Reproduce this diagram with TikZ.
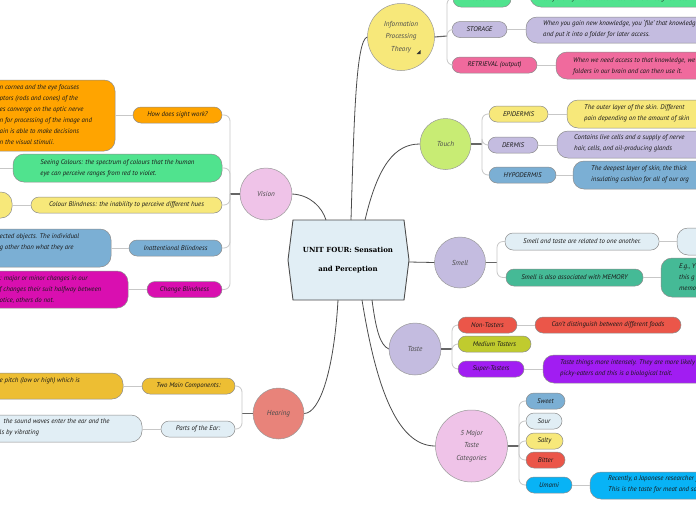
\documentclass[tikz,border=0pt]{standalone}
\usepackage{fontspec}
\setmainfont{PT Sans}
\newfontfamily\titlefont{DejaVu Serif}
\usetikzlibrary{calc}
\definecolor{cOrange}{HTML}{FFA400}
\definecolor{cGreen}{HTML}{50E38E}
\definecolor{cYellow}{HTML}{F7E87A}
\definecolor{cBlue}{HTML}{7BAFD4}
\definecolor{cMagenta}{HTML}{D90FB0}
\definecolor{cGold}{HTML}{EDBE33}
\definecolor{cLightBlue}{HTML}{E1EEF5}
\definecolor{cLavender}{HTML}{C4BCE0}
\definecolor{cPink}{HTML}{F06A9D}
\definecolor{cLime}{HTML}{C8EC74}
\definecolor{cTeal}{HTML}{45BA96}
\definecolor{cRed}{HTML}{EB5649}
\definecolor{cOlive}{HTML}{C0CB2E}
\definecolor{cPurple}{HTML}{A11DF2}
\definecolor{cCyan}{HTML}{08B3F6}
\definecolor{cLilac}{HTML}{EFC3E8}
\definecolor{cSalmon}{HTML}{E8837A}
\definecolor{cCenter}{HTML}{E1EEF5}
\begin{document}
\begin{tikzpicture}[x=1pt,y=-1pt,
  every node/.style={font=\fontsize{6.8}{11}\selectfont\itshape, text=black!90},
  pill/.style={draw=black!45, line width=0.5pt, rounded corners=8pt, minimum height=16pt, inner sep=0pt},
  box/.style={draw=black!45, line width=0.5pt, rounded corners=11pt, inner sep=0pt, align=left},
  topic/.style={circle, draw=black!40, line width=0.5pt, inner sep=0pt, font=\fontsize{7.2}{12.5}\selectfont\itshape, text=black!70, align=center},
  mainline/.style={draw=black!70, line width=0.8pt},
  stub/.style={draw=black!60, line width=1.1pt},
  subline/.style={draw=black!22, line width=0.8pt, rounded corners=6pt},
  txt/.style={anchor=west, align=left, inner sep=0pt}
]
\path[fill=white] (0,0) rectangle (696,520);
\useasboundingbox (0,0) rectangle (696,520);

% ---------- centre ----------
\path[fill=cCenter, draw=black!70, line width=0.9pt]
  (293,220) -- (404,220) -- (409,260) -- (404,300) -- (293,300) -- (288,260) -- cycle;
\node[font=\titlefont\bfseries\fontsize{7}{19}\selectfont, text=black, align=center] (centre) at (348,260) {UNIT FOUR: Sensation\\and Perception};
\coordinate (cV) at (326,220);
\coordinate (cI) at (351,220);
\coordinate (cT) at (365,220);
\coordinate (cS) at (409,262);
\coordinate (cTa) at (372,300);
\coordinate (cM) at (362,300);
\coordinate (cH) at (338,300);

% ---------- topics ----------
\node[topic, fill=cLilac, minimum size=52pt] (vision) at (266,194) {Vision};
\node[topic, fill=cSalmon, minimum size=51pt] (hearing) at (278.5,413.5) {Hearing};
\node[topic, fill=cYellow, minimum size=67pt] (ipt) at (401,37) {Information\\Processing\\Theory};
\fill[black!80] (416.5,54) -- (420.5,54) -- (420.5,50) -- cycle;
\node[topic, fill=cLime, minimum size=51pt] (touch) at (445.5,144) {Touch};
\node[topic, fill=cLavender, minimum size=51pt] (smell) at (460,262.5) {Smell};
\node[topic, fill=cLavender, minimum size=52pt] (taste) at (415,349) {Taste};
\node[topic, fill=cLilac, minimum size=72pt] (major) at (471.5,446) {5 Major\\Taste\\Categories};

\draw[mainline] (vision.east) .. controls (310,195) and (322,207) .. (cV);
\draw[mainline] (cI) .. controls (354,120) and (356,40) .. (ipt.west);
\draw[mainline] (cT) .. controls (378,165) and (395,144) .. (touch.west);
\draw[mainline] (cS) -- (smell.west);
\draw[mainline] (cTa) .. controls (376,330) and (380,345) .. (taste.west);
\draw[mainline] (cM) .. controls (375,380) and (395,446) .. (major.west);
\draw[mainline] (cH) .. controls (334,370) and (320,413) .. (hearing.east);

% ---------- Vision ----------
\coordinate (vj) at (230,194);
\draw[stub] (vision.west) -- (vj);
\node[pill, fill=cOrange, minimum width=89pt] (sight) at (177.5,115) {How does sight work?};
\node[box, fill=cOrange, minimum width=175pt, minimum height=71pt] (sightbox) at (27.5,115.5) {};
\node[txt] (sighttxt) at (-0.5,114.5) {n cornea and the eye focuses\\ptors (rods and cones) of the\\es converge on the optic nerve\\n for processing of the image and\\ain is able to make decisions\\n the visual stimuli.};
\node[box, fill=cGreen, minimum width=209pt, minimum height=28pt] (colours) at (117.5,168) {Seeing Colours: the spectrum of colours that the human\\eye can perceive ranges from red to violet.};
\coordinate (colchild) at (-5,168);
\node[pill, fill=cYellow, minimum width=191pt] (cblind) at (126.5,205) {Colour Blindness: the inability to perceive different hues};
\node[box, fill=cYellow, minimum width=72pt, minimum height=26pt] (cblindbox) at (-24,205) {};
\node[pill, fill=cBlue, minimum width=93pt] (inatt) at (175.5,248) {Inattentional Blindness};
\node[box, fill=cBlue, minimum width=191pt, minimum height=38pt] (inattbox) at (15.5,248) {};
\node[txt] (inatttxt) at (-0.5,242) {ected objects. The individual\\g other than what they are};
\node[pill, fill=cMagenta, minimum width=75pt] (change) at (184.5,289.5) {Change Blindness};
\node[box, fill=cMagenta, minimum width=208pt, minimum height=37pt] (changebox) at (24,289.5) {};
\node[txt] (changetxt) at (-0.5,289.5) {: major or minor changes in our\\f changes their suit halfway between\\otice, others do not.};
\foreach \c in {sight,colours,cblind,inatt,change}{\draw[subline] (vj) |- (\c.east);}
\draw[subline] (sight.west) -- (sight.west -| sightbox.east);
\draw[subline] (colours.west) -- (colchild);
\draw[subline] (cblind.west) -- (cblind.west -| cblindbox.east);
\draw[subline] (inatt.west) -- (inatt.west -| inattbox.east);
\draw[subline] (change.west) -- (change.west -| changebox.east);

% ---------- Hearing ----------
\coordinate (hj) at (242,413.5);
\draw[stub] (hearing.west) -- (hj);
\node[pill, fill=cGold, minimum width=93pt] (twomain) at (188.5,386) {Two Main Components:};
\node[box, fill=cGold, minimum width=203pt, minimum height=26pt] (twomainbox) at (21.5,386) {};
\node[txt] (twomaintxt) at (-0.5,381) {e pitch (low or high) which is};
\node[pill, fill=cLightBlue, minimum width=74pt] (ear) at (198,429) {Parts of the Ear:};
\node[box, fill=cLightBlue, minimum width=222pt, minimum height=27pt] (earbox) at (31,428.5) {};
\node[txt] (eartxt) at (-0.5,427.5) {\hspace*{4pt}the sound waves enter the ear and the\\ls by vibrating};
\foreach \c in {twomain,ear}{\draw[subline] (hj) |- (\c.east);}
\draw[subline] (twomain.west) -- (twomain.west -| twomainbox.east);
\draw[subline] (ear.west) -- (ear.west -| earbox.east);

% ---------- Information Processing Theory ----------
\coordinate (ij) at (447,36);
\draw[stub] (ipt.east) -- (ij);
\node[pill, fill=cGreen, minimum width=58pt, minimum height=18pt] (enc) at (482,-2) {ENCODING};
\node[box, fill=cGreen, minimum width=230pt, minimum height=27pt] (encbox) at (645,-6.5) {};
\node[txt] (enctxt) at (540,-1) {All of the information we encounter is through senses};
\node[pill, fill=cLavender, minimum width=55pt] (stor) at (479.5,29.5) {STORAGE};
\node[box, fill=cLavender, minimum width=254pt, minimum height=26pt] (storbox) at (653,30) {};
\node[txt] (stortxt) at (543,29.5) {When you gain new knowledge, you `file' that knowledge\\and put it into a folder for later access.};
\node[pill, fill=cPink, minimum width=85pt] (retr) at (494.5,65) {RETRIEVAL (output)};
\node[box, fill=cPink, minimum width=224pt, minimum height=27pt] (retrbox) at (668,65.5) {};
\node[txt] (retrtxt) at (573,66) {When we need access to that knowledge, we\\folders in our brain and can then use it.};
\foreach \c in {enc,stor,retr}{\draw[subline] (ij) |- (\c.west);}
\foreach \c in {enc,stor,retr}{\draw[subline] (\c.east) -- (\c.east -| \c box.west);}

% ---------- Touch ----------
\coordinate (tj) at (482,144);
\draw[stub] (touch.east) -- (tj);
\node[pill, fill=cYellow, minimum width=59pt] (epi) at (518.5,114) {EPIDERMIS};
\node[box, fill=cYellow, minimum width=223pt, minimum height=28pt] (epibox) at (678.5,114) {};
\node[txt] (epitxt) at (584,113.5) {The outer layer of the skin. Different\\pain depending on the amount of skin};
\node[pill, fill=cLavender, minimum width=50pt] (derm) at (513,145) {DERMIS};
\node[box, fill=cLavender, minimum width=233pt, minimum height=27pt] (dermbox) at (673.5,144.5) {};
\node[txt] (dermtxt) at (574,143.5) {Contains live cells and a supply of nerve\\hair, cells, and oil-producing glands};
\node[pill, fill=cBlue, minimum width=67pt] (hypo) at (522.5,175) {HYPODERMIS};
\node[box, fill=cBlue, minimum width=217pt, minimum height=28pt] (hypobox) at (681.5,175) {};
\node[txt] (hypotxt) at (591,174.5) {The deepest layer of skin, the thick\\insulating cushion for all of our org};
\foreach \c in {epi,derm,hypo}{\draw[subline] (tj) |- (\c.west);}
\foreach \c in {epi,derm,hypo}{\draw[subline] (\c.east) -- (\c.east -| \c box.west);}

% ---------- Smell ----------
\coordinate (sj) at (497,262.5);
\draw[stub] (smell.east) -- (sj);
\node[pill, fill=cLightBlue, minimum width=154pt, minimum height=17pt] (rel) at (582,241.5) {Smell and taste are related to one another.};
\node[box, fill=cLightBlue, minimum width=113pt, minimum height=27pt] (relbox) at (733.5,241.5) {};
\node[pill, fill=cTeal, minimum width=137pt, minimum height=17pt] (mem) at (574.5,277.5) {Smell is also associated with MEMORY};
\node[box, fill=cTeal, minimum width=129pt, minimum height=39pt] (membox) at (725.5,277.5) {};
\node[txt] (memtxt) at (679,277.5) {E.g., Y\\this g\\memo};
\foreach \c in {rel,mem}{\draw[subline] (sj) |- (\c.west);}
\foreach \c in {rel,mem}{\draw[subline] (\c.east) -- (\c.east -| \c box.west);}

% ---------- Taste ----------
\coordinate (taj) at (452,349);
\draw[stub] (taste.east) -- (taj);
\node[pill, fill=cRed, minimum width=59pt] (non) at (487.5,325) {Non-Tasters};
\node[pill, fill=cRed, minimum width=146pt] (nonbox) at (608,325) {Can't distinguish between different foods};
\node[pill, fill=cOlive, minimum width=73pt] (med) at (494.5,344) {Medium Tasters};
\node[pill, fill=cPurple, minimum width=66pt] (sup) at (491,369) {Super-Tasters};
\node[box, fill=cPurple, minimum width=247pt, minimum height=28pt] (supbox) at (666.5,369) {};
\node[txt] (suptxt) at (560,368.5) {Taste things more intensely. They are more likely to be\\picky-eaters and this is a biological trait.};
\foreach \c in {non,med,sup}{\draw[subline] (taj) |- (\c.west);}
\draw[subline] (non.east) -- (nonbox.west);
\draw[subline] (sup.east) -- (sup.east -| supbox.west);

% ---------- 5 Major ----------
\coordinate (mj) at (519,446);
\draw[stub] (major.east) -- (mj);
\node[pill, fill=cBlue, minimum width=39pt] (sweet) at (545.5,401) {Sweet};
\node[pill, fill=cLightBlue, minimum width=36pt] (sour) at (544,421) {Sour};
\node[pill, fill=cYellow, minimum width=37pt] (salty) at (544.5,441) {Salty};
\node[pill, fill=cRed, minimum width=39pt] (bitter) at (545.5,460) {Bitter};
\node[pill, fill=cCyan, minimum width=46pt] (umami) at (549,485) {Umami};
\node[box, fill=cCyan, minimum width=200pt, minimum height=27pt] (umamibox) at (690,485.5) {};
\node[txt] (umamitxt) at (608,484.5) {Recently, a Japanese researcher found a fifth taste.\\This is the taste for meat and savoury foods.};
\foreach \c in {sweet,sour,salty,bitter,umami}{\draw[subline] (mj) |- (\c.west);}
\draw[subline] (umami.east) -- (umami.east -| umamibox.west);
\end{tikzpicture}
\end{document}
